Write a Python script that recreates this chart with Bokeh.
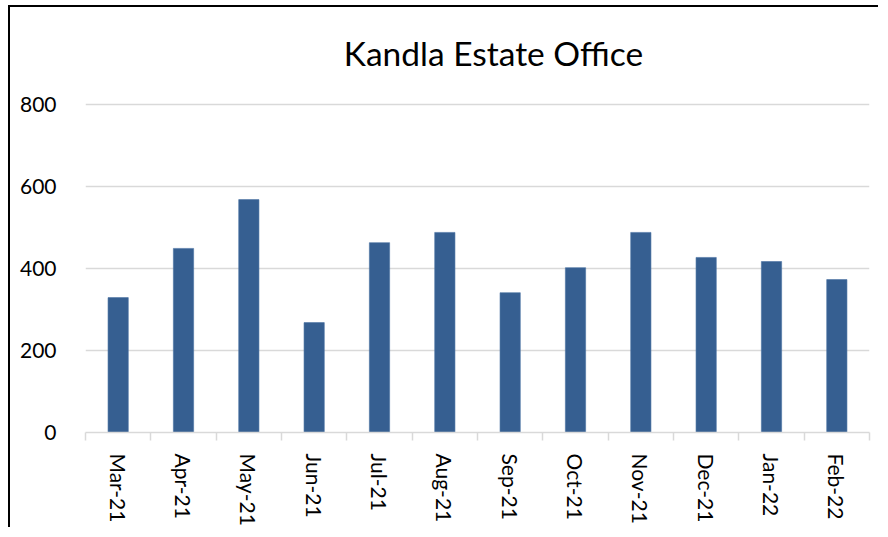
from bokeh.plotting import figure
from bokeh.models import FixedTicker, Range1d, Label
from bokeh.embed import file_html
from bokeh.resources import INLINE

months = ["Mar-21", "Apr-21", "May-21", "Jun-21", "Jul-21", "Aug-21",
          "Sep-21", "Oct-21", "Nov-21", "Dec-21", "Jan-22", "Feb-22"]
values = [329, 449, 568, 268, 463, 488, 341, 402, 488, 427, 417, 373]
y_ticks = [0, 200, 400, 600, 800]
title_text = "Kandla Estate Office"

FONT = "Lato"
xs = [i + 0.5 for i in range(len(months))]

# frame extends up to the top of the canvas; the title sits in the headroom above 800
Y_TOP = 800 * 425 / 328

p = figure(width=870, height=522, output_backend="svg", toolbar_location=None,
           x_range=Range1d(0, len(months)), y_range=Range1d(0, Y_TOP),
           min_border_left=75, min_border_right=11, min_border_top=0,
           min_border_bottom=97)
p.styles = {"border-top": "2px solid black", "border-left": "2px solid black",
            "margin-left": "8px", "margin-top": "5px"}
p.outline_line_color = None
p.background_fill_color = "white"
p.border_fill_color = "white"

p.vbar(x=xs, top=values, width=0.31, bottom=0,
       fill_color="#365F91", line_color="#4a72a3", line_width=0.6)

title = Label(x=len(months) / 2, y=y_ticks[-1], x_offset=16, y_offset=52,
              text=title_text, text_font=FONT, text_font_size="33.5px",
              text_color="black", text_align="center", text_baseline="alphabetic")
p.add_layout(title)

# y axis
p.yaxis.ticker = FixedTicker(ticks=y_ticks)
p.yaxis.axis_line_color = None
p.yaxis.major_tick_line_color = None
p.yaxis.minor_tick_line_color = None
p.yaxis.major_label_standoff = 23
p.yaxis.major_label_text_font = FONT
p.yaxis.major_label_text_font_size = "21px"
p.yaxis.major_label_text_color = "black"

# x axis
p.xaxis.ticker = FixedTicker(ticks=xs, minor_ticks=list(range(len(months) + 1)))
p.xaxis.major_label_overrides = {x: m for x, m in zip(xs, months)}
p.xaxis.major_label_orientation = "vertical"
p.xaxis.axis_line_color = "#d9d9d9"
p.xaxis.axis_line_width = 1.5
p.xaxis.major_tick_line_color = None
p.xaxis.major_tick_out = 0
p.xaxis.major_tick_in = 0
p.xaxis.minor_tick_line_color = "#d9d9d9"
p.xaxis.minor_tick_line_width = 1.5
p.xaxis.minor_tick_out = 8
p.xaxis.minor_tick_in = 0
p.xaxis.major_label_standoff = 13
p.xaxis.major_label_text_font = FONT
p.xaxis.major_label_text_font_size = "21px"
p.xaxis.major_label_text_color = "black"

p.xgrid.grid_line_color = None
p.ygrid.ticker = FixedTicker(ticks=y_ticks)
p.ygrid.grid_line_color = "#d9d9d9"
p.ygrid.grid_line_width = 1.5

open("out.html", "w").write(file_html(p, INLINE))
